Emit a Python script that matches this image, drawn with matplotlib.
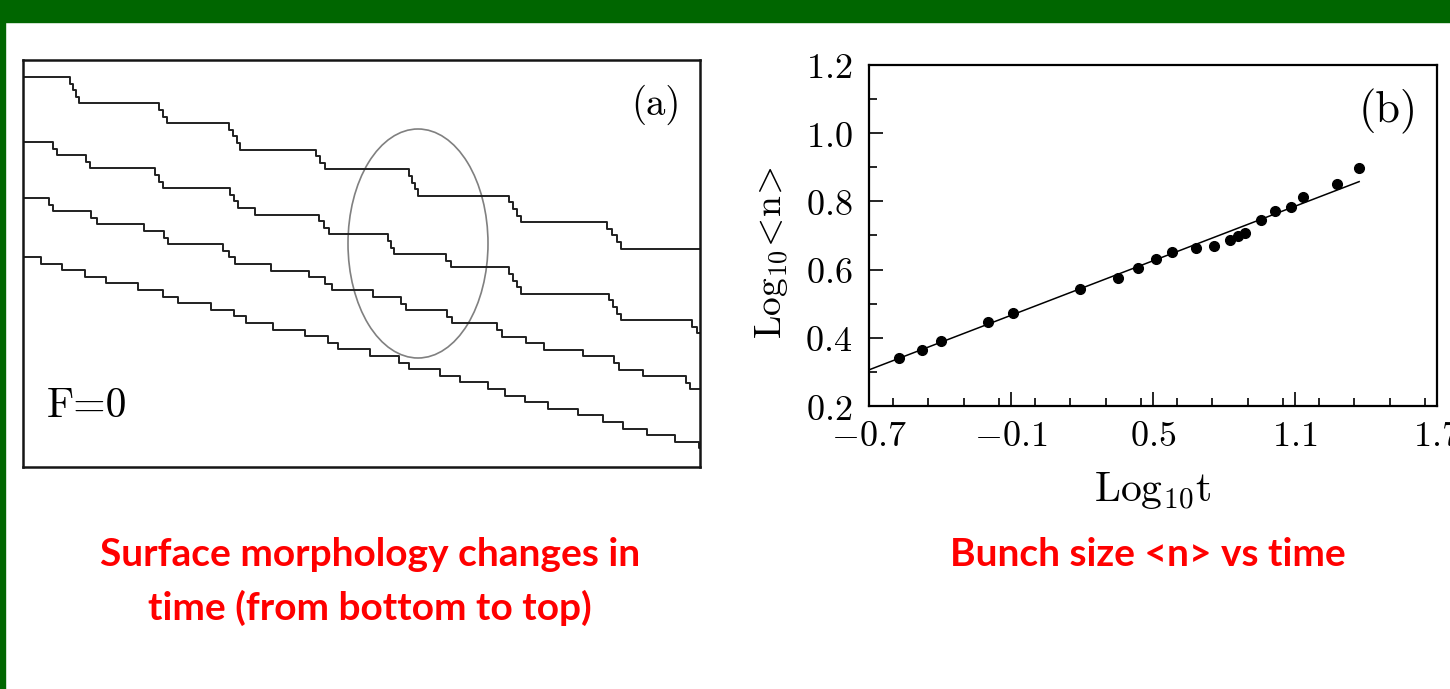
import numpy as np
import matplotlib
matplotlib.use("Agg")
import matplotlib.pyplot as plt
from matplotlib.patches import Ellipse, Rectangle
from matplotlib.ticker import MultipleLocator

plt.rcParams["mathtext.fontset"] = "cm"

# --- panel (a): surface profiles (bottom -> top in time) ---
# positions of single atomic steps along the surface, one list per profile
STEP_HEIGHT = 6.6
SURFACE_LEN = 677
start_heights = [390, 325, 269, 210]
profile1_steps = [47, 50, 53, 56, 136, 140, 144, 206, 210, 214, 217, 293, 297, 302,
                  386, 389, 392, 395, 486, 490, 494, 498, 584, 589, 594, 598]
profile2_steps = [30, 34, 63, 67, 132, 136, 140, 207, 211, 215, 232, 296, 301, 306,
                  365, 368, 371, 423, 428, 486, 490, 494, 498, 586, 590, 594, 598, 669, 674]
profile3_steps = [26, 30, 68, 74, 121, 141, 145, 200, 206, 212, 248, 285.5, 302, 309,
                  350, 378, 383, 424, 429, 474, 479, 503, 521, 560, 591, 596, 620, 663, 667]
profile4_steps = [18, 38.5, 62, 83, 114.5, 140, 154.5, 188, 211, 223, 250, 282, 304.5, 315,
                  347, 376, 386, 417, 437, 465, 482, 502, 525, 555, 580, 600, 624, 652, 676]
profiles = [profile1_steps, profile2_steps, profile3_steps, profile4_steps]

# --- panel (b): bunch size vs time ---
log_t = [-0.572, -0.476, -0.396, -0.196, -0.090, 0.191, 0.351, 0.438, 0.512, 0.580, 0.681,
         0.758, 0.825, 0.860, 0.889, 0.955, 1.017, 1.083, 1.135, 1.276, 1.371]
log_n = [0.340, 0.364, 0.390, 0.445, 0.472, 0.543, 0.576, 0.606, 0.631, 0.652, 0.662,
         0.669, 0.687, 0.698, 0.708, 0.745, 0.772, 0.784, 0.814, 0.850, 0.897]
fit_x = [-0.7, 1.371]
fit_y = [0.306, 0.858]
xticks_b = [-0.7, -0.1, 0.5, 1.1, 1.7]
yticks_b = [0.2, 0.4, 0.6, 0.8, 1.0, 1.2]

W, H = 1450, 689
fig = plt.figure(figsize=(W / 100, H / 100), dpi=100)
fig.patch.set_facecolor("white")

# green slide frame
green = "#006600"
fig.add_artist(Rectangle((0, 1 - 22 / H), 1, 22 / H, transform=fig.transFigure,
                         color=green, zorder=0))
fig.add_artist(Rectangle((0, 0), 5 / W, 1, transform=fig.transFigure,
                         color=green, zorder=0))


def px_rect(left, top, right, bottom):
    return [left / W, 1 - bottom / H, (right - left) / W, (bottom - top) / H]


# panel (a)
ax1 = fig.add_axes(px_rect(23, 60, 700, 467))
for start, steps in zip(start_heights, profiles):
    xs = [0] + steps + [SURFACE_LEN]
    levels = start - STEP_HEIGHT * np.arange(len(steps) + 1)
    ys = list(levels) + [levels[-1]]
    ax1.step(xs, ys, where="post", color="#202020", lw=1.4)
ax1.add_patch(Ellipse((395, 223.5), 140, 229, fill=False, ec="#808080", lw=1.2))
ax1.set_xlim(0, SURFACE_LEN)
ax1.set_ylim(0, 407)
ax1.set_xticks([])
ax1.set_yticks([])
for sp in ax1.spines.values():
    sp.set_linewidth(1.8)
    sp.set_color("#151515")
ax1.text(633, 362, "(a)", family="cmr10", fontsize=28, ha="center", va="center")
ax1.text(64, 61, "F=0", family="cmr10", fontsize=30, ha="center", va="center")

# panel (b)
ax2 = fig.add_axes(px_rect(869, 65, 1437, 406))
ax2.plot(fit_x, fit_y, color="black", lw=1.1)
ax2.plot(log_t, log_n, "o", color="black", ms=7)
ax2.set_xlim(-0.7, 1.7)
ax2.set_ylim(0.2, 1.2)
ax2.set_xticks(xticks_b, labels=[f"${v:.1f}$" for v in xticks_b])
ax2.set_yticks(yticks_b, labels=[f"${v:.1f}$" for v in yticks_b])
ax2.xaxis.set_minor_locator(MultipleLocator(0.15))
ax2.yaxis.set_minor_locator(MultipleLocator(0.1))
ax2.tick_params(which="both", direction="in", width=1.2, labelsize=26)
ax2.tick_params(which="major", length=10)
ax2.tick_params(which="minor", length=5.5)
ax2.tick_params(axis="x", pad=9)
ax2.tick_params(axis="y", pad=12)
for sp in ax2.spines.values():
    sp.set_linewidth(1.6)
ax2.set_xlabel(r"$\mathrm{Log_{10}t}$", fontsize=30, labelpad=12)
ax2.set_ylabel(r"$\mathrm{Log_{10}}\!<\!\mathrm{n}\!>$", fontsize=27)
ax2.yaxis.set_label_coords(-0.137, 0.45)
ax2.text(1.493, 1.065, "(b)", family="cmr10", fontsize=32, ha="center", va="center")

# captions
cap = dict(color="#ff0000", fontsize=28, fontweight="bold", family="Lato",
           ha="center", va="center")
fig.text(370 / W, 1 - 555 / H, "Surface morphology changes in", **cap)
fig.text(370 / W, 1 - 608 / H, "time (from bottom to top)", **cap)
fig.text(1148 / W, 1 - 555 / H, "Bunch size <n> vs time", **cap)

fig.savefig("out.png", dpi=100, facecolor="white")
